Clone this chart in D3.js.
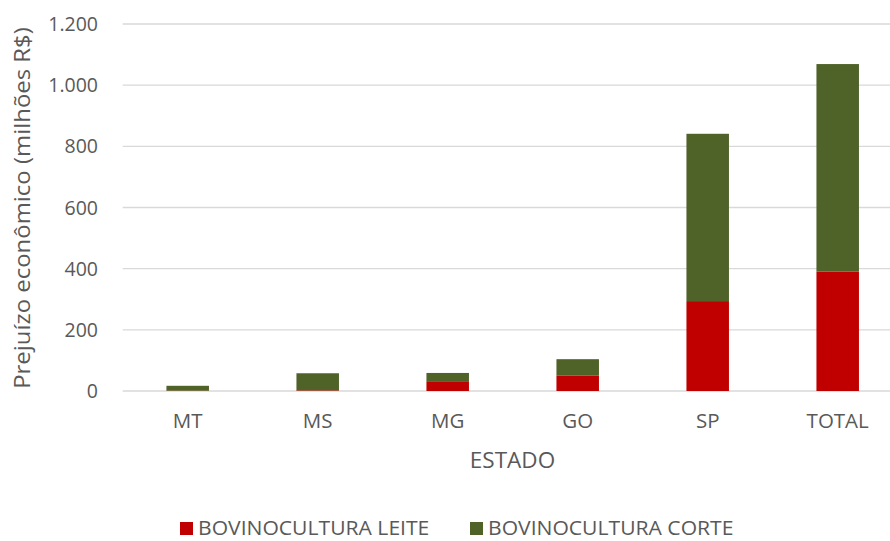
<!DOCTYPE html>
<html><head><meta charset="utf-8">
<script src="https://cdn.jsdelivr.net/npm/d3@7"></script>
<style>body{margin:0;background:#fff}text{font-family:"Open Sans",sans-serif;fill:#595959}</style>
</head><body><svg id="c" width="890" height="541"></svg>
<script>
const categories = ["MT","MS","MG","GO","SP","TOTAL"];
const leite = [1, 2, 32, 51, 294, 390];
const corte = [16, 56, 27, 53, 547, 679];
const seriesNames = ["BOVINOCULTURA LEITE","BOVINOCULTURA CORTE"];
const colors = ["#C00000","#4F6228"];
const yTicks = [0,200,400,600,800,1000,1200];

const svg = d3.select("#c");
const m = {l:122.7, r:902.7, t:24, b:391};
const x = d3.scaleBand().domain(categories).range([m.l,m.r]).paddingInner(0.673).paddingOuter(0.3365);
const y = d3.scaleLinear().domain([0,1200]).range([m.b,m.t]);
const fmt = d => d3.format(",")(d).replace(/,/g,".");

svg.append("g").selectAll("line").data(yTicks).join("line")
  .attr("x1",m.l).attr("x2",890).attr("y1",d=>y(d)).attr("y2",d=>y(d))
  .attr("stroke","#d9d9d9").attr("stroke-width",1.3);

svg.append("g").selectAll("text").data(yTicks).join("text")
  .attr("x",98).attr("y",d=>y(d)).attr("dy","0.36em").attr("text-anchor","end")
  .attr("font-size",19.5).text(fmt);

const data = categories.map((c,i)=>({c, v:[leite[i], corte[i]]}));
const stack = d3.stack().keys([0,1]).value((d,k)=>d.v[k])(data);
svg.append("g").selectAll("g").data(stack).join("g").attr("fill",(d,i)=>colors[i])
  .selectAll("rect").data(d=>d).join("rect")
  .attr("x",d=>x(d.data.c)).attr("width",x.bandwidth())
  .attr("y",d=>y(d[1])).attr("height",d=>y(d[0])-y(d[1]));

svg.append("g").selectAll("text").data(categories).join("text")
  .attr("x",d=>x(d)+x.bandwidth()/2).attr("y",428).attr("text-anchor","middle")
  .attr("font-size",20.5).text(d=>d);

svg.append("text").attr("x",512.5).attr("y",468).attr("text-anchor","middle")
  .attr("font-size",22.5).text("ESTADO");
svg.append("text").attr("transform","translate(29.5,208) rotate(-90) scale(1.14,1)").attr("text-anchor","middle")
  .attr("font-size",21).text("Prejuízo econômico (milhões R$)");

const lg = svg.append("g");
const lx = [180, 470];
seriesNames.forEach((s,i)=>{
  lg.append("rect").attr("x",lx[i]).attr("y",522).attr("width",13).attr("height",13).attr("fill",colors[i]);
  lg.append("text").attr("transform",`translate(${lx[i]+18},535) scale(1.03,1)`).attr("font-size",20.5).text(s);
});
</script></body></html>
